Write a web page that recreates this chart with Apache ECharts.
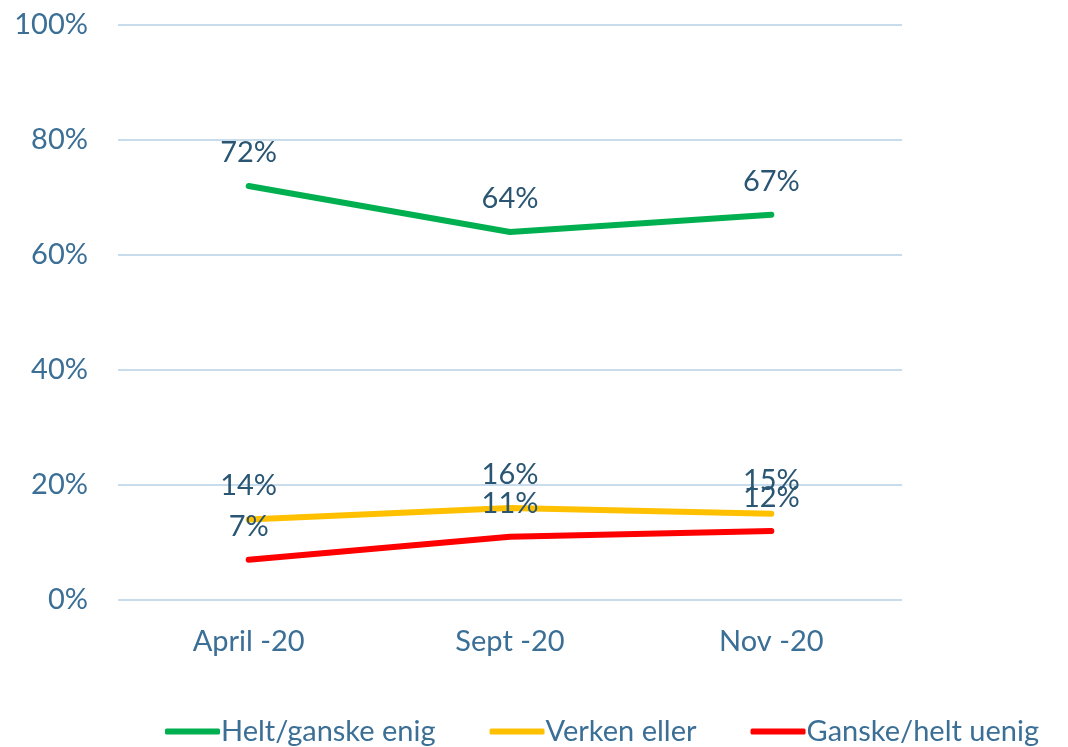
<!DOCTYPE html>
<html>
<head>
<meta charset="utf-8">
<script src="https://cdn.jsdelivr.net/npm/echarts@6/dist/echarts.min.js"></script>
<style>
  html, body { margin: 0; padding: 0; background: #ffffff; }
  #chart { width: 1068px; height: 747px; }
</style>
</head>
<body>
<div id="chart"></div>
<script>
// Survey periods
const categories = ['April -20', 'Sept -20', 'Nov -20'];

// Share of respondents (%) per answer group
const enig = [72, 64, 67];
const verken = [14, 16, 15];
const uenig = [7, 11, 12];

const seriesNames = ['Helt/ganske enig', 'Verken eller', 'Ganske/helt uenig'];
const seriesColors = ['#00B050', '#FFC000', '#FF0000'];

const FONT = 'Lato';
const axisColor = '#3B6F96';
const labelColor = '#2A5673';

function lineSeries(name, data, color) {
  return {
    name: name,
    type: 'line',
    data: data,
    symbol: 'circle',
    symbolSize: 0,
    showSymbol: true,
    lineStyle: { color: color, width: 6, cap: 'round' },
    itemStyle: { color: color },
    label: {
      show: true,
      position: 'top',
      distance: 19,
      formatter: '{c}%',
      color: labelColor,
      fontFamily: FONT,
      fontSize: 29
    },
    labelLayout: { hideOverlap: false },
    z: 3
  };
}

const chart = echarts.init(document.getElementById('chart'), null, { renderer: 'canvas' });
chart.setOption({
  animation: false,
  backgroundColor: '#ffffff',
  grid: { left: 118, right: 166, top: 25, bottom: 147, containLabel: false },
  xAxis: {
    type: 'category',
    data: categories,
    boundaryGap: true,
    axisLine: { show: false },
    axisTick: { show: false },
    axisLabel: { color: axisColor, fontFamily: FONT, fontSize: 29, margin: 27 }
  },
  yAxis: {
    type: 'value',
    min: 0,
    max: 100,
    interval: 20,
    axisLine: { show: false },
    axisTick: { show: false },
    axisLabel: { color: axisColor, fontFamily: FONT, fontSize: 29, margin: 30, formatter: '{value}%' },
    splitLine: { lineStyle: { color: '#C9DCEC', width: 2 } }
  },
  legend: {
    data: seriesNames,
    left: 160,
    top: 712,
    icon: 'roundRect',
    itemWidth: 55,
    itemHeight: 6,
    itemGap: 54,
    textStyle: { color: axisColor, fontFamily: FONT, fontSize: 29, padding: [0, 0, 0, -4] }
  },
  series: [
    lineSeries(seriesNames[0], enig, seriesColors[0]),
    lineSeries(seriesNames[1], verken, seriesColors[1]),
    lineSeries(seriesNames[2], uenig, seriesColors[2])
  ]
});
</script>
</body>
</html>
